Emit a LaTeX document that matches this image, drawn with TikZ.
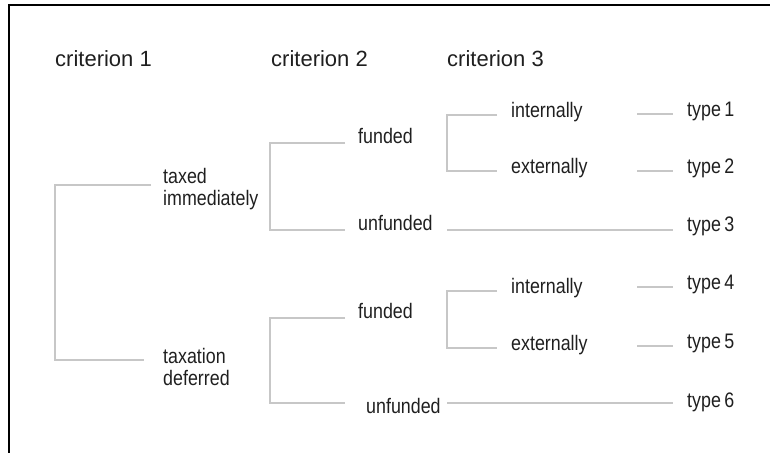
\documentclass[tikz,border=0pt]{standalone}
\usepackage{fontspec}
\setmainfont{Liberation Sans}
\newfontfamily\narrowfont{Liberation Sans}[FakeStretch=0.85]

\begin{document}
\begin{tikzpicture}[x=1pt, y=-1pt,
    arm/.style={draw=black!22, line width=1.1pt},
    crit/.style={anchor=base west, inner sep=0pt, text=black!88,
        font=\fontsize{22}{26}\selectfont},
    txt/.style={anchor=base west, inner sep=0pt, text=black!88, align=left,
        font=\narrowfont\fontsize{21}{22}\selectfont}]
    \useasboundingbox (0,0) rectangle (770,453);
    \draw[line width=2.2pt] (770,5) -- (9,5) -- (9,453);% 边框

    % 三个标准
    \node[crit] (crit1) at (55,66) {criterion 1};
    \node[crit] (crit2) at (271,66) {criterion 2};
    \node[crit] (crit3) at (447,66) {criterion 3};

    \node[txt] (taxed) at (163,205) {taxed\\immediately};% 基线在第二行
    \node[txt] (taxation) at (163,385) {taxation\\deferred};

    \node[txt] (fundA) at (358,143) {funded};
    \node[txt] (unfundA) at (358,230) {unfunded};
    \node[txt] (fundB) at (358,318) {funded};
    \node[txt] (unfundB) at (366,413) {unfunded};

    \node[txt] (intA) at (511,117) {internally};
    \node[txt] (extA) at (511,173) {externally};
    \node[txt] (intB) at (511,293) {internally};
    \node[txt] (extB) at (511,350) {externally};

    \node[txt] (type1) at (687,116) {type\,1};
    \node[txt] (type2) at (687,173) {type\,2};
    \node[txt] (type3) at (687,231) {type\,3};
    \node[txt] (type4) at (687,289) {type\,4};
    \node[txt] (type5) at (687,348) {type\,5};
    \node[txt] (type6) at (687,407) {type\,6};

    \coordinate (k1) at (55,0);% 竖线位置
    \coordinate (k2) at (270,0);
    \coordinate (k3) at (447,0);
    \coordinate (s) at (637,0);
    \coordinate (tA) at ([yshift=20pt]taxed.base west);
    \coordinate (tB) at ([yshift=25pt]taxation.base west);
    \coordinate (uB) at ([yshift=10pt]unfundB.base west);

    \draw[arm] ([xshift=-12pt]tA) -- (tA -| k1) -- (tB -| k1) -- ([xshift=-19pt]tB);

    \draw[arm] ([xshift=-13pt]fundA.base west) -- (fundA.base west -| k2)
        -- (unfundA.base west -| k2) -- ([xshift=-13pt]unfundA.base west);
    \draw[arm] ([xshift=-13pt]fundB.base west) -- (fundB.base west -| k2)
        -- (uB -| k2) -- ([xshift=-21pt]uB);

    \draw[arm] ([xshift=-14pt,yshift=2pt]intA.base west) -- ([yshift=2pt]intA.base west -| k3)
        -- ([yshift=2pt]extA.base west -| k3) -- ([xshift=-14pt,yshift=2pt]extA.base west);
    \draw[arm] ([xshift=-14pt,yshift=2pt]intB.base west) -- ([yshift=2pt]intB.base west -| k3)
        -- ([yshift=2pt]extB.base west -| k3) -- ([xshift=-14pt,yshift=2pt]extB.base west);

    \draw[arm, shorten >=14pt] (unfundA.base east -| k3) -- (unfundA.base east -| type3.base west);
    \draw[arm, shorten >=14pt] (uB -| k3) -- (uB -| type6.base west);

    \foreach \t in {type1, type2, type4, type5}
        \draw[arm] ([yshift=2pt]\t.base west -| s) -- ([xshift=-14pt,yshift=2pt]\t.base west);
\end{tikzpicture}
\end{document}
